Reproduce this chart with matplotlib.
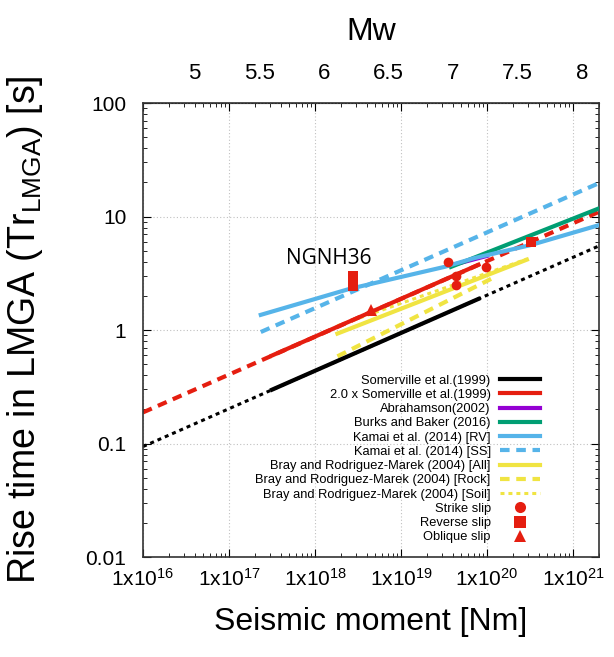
import numpy as np
import matplotlib
matplotlib.use('Agg')
import matplotlib.pyplot as plt
from matplotlib.lines import Line2D
from matplotlib.ticker import NullLocator, NullFormatter

plt.rcParams['font.family'] = ['Liberation Sans', 'DejaVu Sans']
plt.rcParams['mathtext.default'] = 'regular'

# scaling relations, seismic moment [Nm] vs rise time [s]
som_m0 = [1e16, 2e21]
som_tr = [0.094, 5.51]
som_solid_m0 = [3.16e17, 7.94e19]
som_solid_tr = [0.298, 1.88]

som2_m0 = [1e16, 2e21]
som2_tr = [0.188, 11.0]
som2_solid_m0 = [3.16e17, 7.94e19]
som2_solid_tr = [0.596, 3.76]

abr_m0 = [4.0e19, 1.0e20]
abr_tr = [3.75, 4.5]

burks_m0 = [3.8e19, 2e21]
burks_tr = [3.6, 11.8]

kamai_rv_m0 = [2.34e17, 2.5e18, 3.2e19, 7.1e19, 3.2e20, 2e21]
kamai_rv_tr = [1.36, 2.3, 3.6, 4.3, 5.6, 8.4]

kamai_ss_m0 = [2.34e17, 2e21]
kamai_ss_tr = [0.96, 19.7]

bray_all_m0 = [1.82e18, 2.9e20]
bray_all_tr = [0.93, 4.17]
bray_rock_m0 = [1.82e18, 1.26e20]
bray_rock_tr = [0.586, 2.96]
bray_soil_m0 = [1.82e18, 2.9e20]
bray_soil_tr = [1.09, 4.22]

# observed events
strike_m0 = [3.5e19, 4.3e19, 4.3e19, 9.8e19]
strike_tr = [3.97, 3.0, 2.49, 3.59]
reverse_m0 = [2.75e18, 2.75e18, 3.2e20]
reverse_tr = [2.45, 3.0, 6.0]
oblique_m0 = [4.5e18]
oblique_tr = [1.5]

mw_ticks = [5, 5.5, 6, 6.5, 7, 7.5, 8]
x_ticks = [1e16, 1e17, 1e18, 1e19, 1e20, 1e21]
x_ticklabels = ['1x10$^{%d}$' % int(np.log10(v)) for v in x_ticks]
y_ticks = [0.01, 0.1, 1, 10, 100]
y_ticklabels = ['0.01', '0.1', '1', '10', '100']

red = '#e51e10'
black = 'black'
purple = '#9400d3'
green = '#009e73'
blue = '#56b4e9'
yellow = '#f0e442'

fig = plt.figure(figsize=(6.14, 6.57), dpi=100)
ax = fig.add_axes([0.2329, 0.1522, 0.7427, 0.6910])
ax.set_xscale('log')
ax.set_yscale('log')
ax.set_xlim(1e16, 2e21)
ax.set_ylim(0.01, 100)

lw = 3.0
# extrapolated parts
ax.plot(som_m0, som_tr, color=black, lw=2.2, dashes=(1.3, 1.3), zorder=2)
ax.plot(som2_m0, som2_tr, color=red, lw=lw, dashes=(2.3, 1.6), zorder=2)
ax.plot(kamai_ss_m0, kamai_ss_tr, color=blue, lw=lw, dashes=(2.3, 1.6), zorder=2)
ax.plot(bray_rock_m0, bray_rock_tr, color=yellow, lw=lw, dashes=(2.3, 1.6), zorder=3)
ax.plot(bray_all_m0, bray_all_tr, color=yellow, lw=lw, zorder=3)
ax.plot(bray_soil_m0, bray_soil_tr, color=yellow, lw=2.2, dashes=(1.3, 1.3), zorder=3)
ax.plot(som_solid_m0, som_solid_tr, color=black, lw=lw, zorder=4)
ax.plot(som2_solid_m0, som2_solid_tr, color=red, lw=lw, zorder=4)
ax.plot(abr_m0, abr_tr, color=purple, lw=lw, zorder=4)
ax.plot(burks_m0, burks_tr, color=green, lw=lw, zorder=4)
ax.plot(kamai_rv_m0, kamai_rv_tr, color=blue, lw=lw, zorder=5)

ax.plot(strike_m0, strike_tr, 'o', color=red, ms=7, mew=0, zorder=6)
ax.plot(reverse_m0, reverse_tr, 's', color=red, ms=7, mew=0, zorder=6)
ax.plot(oblique_m0, oblique_tr, '^', color=red, ms=8, mew=0, zorder=6)

ax.text(1.45e18, 4.3, 'NGNH36', fontsize=15, family='Open Sans', ha='center', va='center')

ax.set_xticks(x_ticks)
ax.set_xticklabels(x_ticklabels)
ax.set_yticks(y_ticks)
ax.set_yticklabels(y_ticklabels)
ax.tick_params(which='both', direction='in', top=True, right=True, labelsize=15)
ax.tick_params(which='major', length=6, width=0.8)
ax.tick_params(which='minor', length=3, width=0.6)
ax.tick_params(axis='x', pad=8)
ax.tick_params(axis='y', pad=12)
ax.grid(True, which='major', color='#c0c0c0', ls=(0, (1, 2)), lw=0.8)
for s in ax.spines.values():
    s.set_linewidth(1.2)
    s.set_color('#333333')

ax.set_xlabel('Seismic moment [Nm]', fontsize=23, labelpad=12)
ax.set_ylabel('Rise time in LMGA (Tr$_{LMGA}$) [s]', fontsize=27)
ax.yaxis.set_label_coords(-0.215, 0.5)

# top axis in moment magnitude
def m0_to_mw(m0):
    return (np.log10(np.maximum(m0, 1e-30)) - 9.1) / 1.5

def mw_to_m0(mw):
    return 10 ** (1.5 * np.asarray(mw) + 9.1)

top = ax.secondary_xaxis('top', functions=(m0_to_mw, mw_to_m0))
top.set_xticks(mw_ticks)
top.set_xticklabels([('%g' % v) for v in mw_ticks])
top.xaxis.set_minor_locator(NullLocator())
top.xaxis.set_minor_formatter(NullFormatter())
top.tick_params(length=0, labelsize=16, pad=14)
top.set_xlabel('Mw', fontsize=23, labelpad=16)

handles = [
    Line2D([], [], color=black, lw=lw),
    Line2D([], [], color=red, lw=lw),
    Line2D([], [], color=purple, lw=lw),
    Line2D([], [], color=green, lw=lw),
    Line2D([], [], color=blue, lw=lw),
    Line2D([], [], color=blue, lw=lw, dashes=(2.3, 1.6)),
    Line2D([], [], color=yellow, lw=lw),
    Line2D([], [], color=yellow, lw=lw, dashes=(2.3, 1.6)),
    Line2D([], [], color=yellow, lw=2.2, dashes=(1.3, 1.3)),
    Line2D([], [], color=red, marker='o', ls='none', ms=8, mew=0),
    Line2D([], [], color=red, marker='s', ls='none', ms=8, mew=0),
    Line2D([], [], color=red, marker='^', ls='none', ms=9, mew=0),
]
labels = [
    'Somerville et al.(1999)',
    '2.0 x Somerville et al.(1999)',
    'Abrahamson(2002)',
    'Burks and Baker (2016)',
    'Kamai et al. (2014) [RV]',
    'Kamai et al. (2014) [SS]',
    'Bray and Rodriguez-Marek (2004) [All]',
    'Bray and Rodriguez-Marek (2004) [Rock]',
    'Bray and Rodriguez-Marek (2004) [Soil]',
    'Strike slip',
    'Reverse slip',
    'Oblique slip',
]
ax.legend(handles, labels, loc='lower right', bbox_to_anchor=(0.87, 0.03),
          frameon=False, markerfirst=False, fontsize=9.3, labelspacing=0.17,
          handlelength=3.1, handletextpad=0.7, borderpad=0, borderaxespad=0)

fig.savefig('out.png', dpi=100)
